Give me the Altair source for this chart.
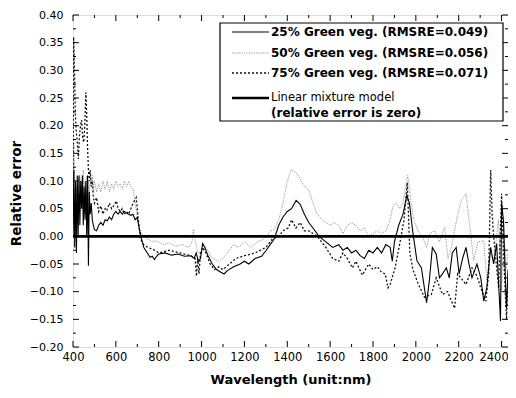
import altair as alt
import pandas as pd

# ---------------- data ----------------
wl25 = [400, 404, 408, 412, 416, 420, 424, 428, 432, 436, 440, 444, 448, 452, 456, 460, 464, 468, 472, 476,
        480, 485, 490, 495, 500, 510, 520, 530, 540, 550, 560, 570, 580, 590, 600, 610, 620, 630, 640, 650,
        660, 670, 680, 690, 700, 710, 720, 730, 740, 750, 760, 770, 780, 790, 800, 830, 860, 890, 920, 950,
        965, 975, 985, 995, 1005, 1015, 1030, 1050, 1070, 1090, 1105, 1120, 1150, 1180, 1200, 1220, 1250,
        1280, 1300, 1320, 1340, 1360, 1380, 1400, 1420, 1441, 1460, 1480, 1500, 1520, 1548, 1580, 1612,
        1640, 1660, 1680, 1700, 1720, 1740, 1760, 1780, 1800, 1820, 1840, 1860, 1880, 1890, 1900, 1920,
        1940, 1958, 1970, 1985, 2005, 2026, 2050, 2063, 2077, 2095, 2110, 2124, 2142, 2156, 2170, 2188,
        2202, 2218, 2234, 2248, 2262, 2285, 2303, 2317, 2331, 2349, 2363, 2377, 2395, 2400, 2409, 2418, 2423, 2430]
re25 = [0.0, 0.12, -0.02, 0.10, -0.03, 0.11, 0.0, 0.11, 0.02, 0.10, 0.05, 0.11, 0.02, 0.09, 0.03, 0.10, 0.0, 0.11, -0.053, 0.08,
        0.04, 0.06, 0.03, 0.02, 0.012, 0.01, 0.02, 0.025, 0.02, 0.03, 0.028, 0.035, 0.03, 0.04, 0.045, 0.04, 0.045, 0.04, 0.045, 0.042,
        0.04, 0.038, 0.04, 0.03, 0.034, 0.012, -0.005, -0.02, -0.026, -0.032, -0.038, -0.036, -0.042, -0.036, -0.032, -0.03, -0.034, -0.032, -0.036, -0.035,
        -0.04, -0.03, -0.045, -0.04, -0.013, -0.02, -0.035, -0.05, -0.06, -0.065, -0.068, -0.062, -0.055, -0.05, -0.045, -0.05, -0.04,
        -0.036, -0.026, -0.015, -0.004, 0.02, 0.035, 0.045, 0.05, 0.065, 0.058, 0.04, 0.025, 0.015, 0.0, -0.01, -0.02,
        -0.015, -0.025, -0.02, -0.03, -0.025, -0.035, -0.04, -0.025, -0.03, -0.02, -0.03, -0.015, -0.02, -0.045, -0.01, 0.02,
        0.04, 0.074, 0.06, 0.01, -0.044, -0.057, -0.12, -0.08, -0.02, -0.032, -0.075, -0.068, -0.057, -0.075, -0.03, -0.02,
        -0.068, -0.04, -0.02, -0.05, -0.075, -0.05, -0.075, -0.117, -0.093, -0.02, -0.05, -0.013, -0.153, 0.06, 0.028, -0.08, -0.13, -0.06]

wl50 = [400, 404, 408, 412, 416, 420, 424, 428, 432, 436, 440, 444, 448, 452, 456, 460, 464, 468, 472, 476,
        480, 485, 490, 495, 500, 510, 520, 530, 540, 550, 560, 570, 580, 590, 600, 610, 620, 630, 640, 650,
        660, 670, 680, 690, 700, 710, 720, 730, 750, 770, 790, 820, 850, 880, 910, 940, 955, 962, 970, 985,
        1000, 1020, 1050, 1080, 1100, 1120, 1150, 1170, 1200, 1230, 1260, 1290, 1322, 1340, 1360, 1380,
        1400, 1418, 1440, 1460, 1480, 1501, 1520, 1540, 1566, 1580, 1600, 1620, 1640, 1660, 1680, 1700,
        1720, 1740, 1760, 1780, 1800, 1820, 1840, 1860, 1880, 1893, 1910, 1925, 1940, 1962, 1975, 1990,
        2010, 2030, 2050, 2065, 2088, 2110, 2134, 2150, 2166, 2190, 2212, 2234, 2248, 2270, 2290, 2317,
        2331, 2345, 2363, 2386, 2400, 2410, 2420, 2430]
re50 = [0.05, 0.17, 0.10, 0.0, 0.09, 0.02, 0.10, 0.04, 0.11, 0.06, 0.10, 0.05, 0.12, 0.04, 0.10, 0.06, 0.11, 0.03, 0.10, 0.06,
        0.11, 0.09, 0.11, 0.08, 0.10, 0.08, 0.095, 0.08, 0.10, 0.085, 0.10, 0.08, 0.095, 0.085, 0.10, 0.09, 0.095, 0.085, 0.10, 0.09,
        0.10, 0.09, 0.085, 0.06, 0.035, 0.015, 0.005, 0.0, -0.005, -0.01, -0.008, -0.015, -0.012, -0.018, -0.015, -0.02, -0.01, 0.013, -0.01, -0.03,
        -0.03, -0.02, -0.04, -0.045, -0.04, -0.03, -0.015, -0.02, -0.01, -0.02, -0.01, -0.005, 0.01, 0.012, 0.03, 0.06,
        0.10, 0.12, 0.115, 0.105, 0.09, 0.083, 0.06, 0.04, 0.029, 0.025, 0.02, 0.025, 0.02, 0.005, 0.02, 0.025,
        0.02, 0.01, 0.015, 0.0, 0.005, 0.01, 0.005, 0.01, 0.03, 0.055, 0.06, 0.05, 0.06, 0.11, 0.07, 0.03,
        0.01, 0.0, -0.02, 0.005, 0.01, -0.01, 0.016, -0.04, -0.02, 0.03, 0.065, 0.077, 0.03, -0.044, -0.01, -0.008,
        -0.08, -0.03, -0.044, 0.03, -0.1, 0.02, -0.06, -0.03]

wl75 = [400, 403, 407, 411, 415, 420, 425, 430, 435, 440, 445, 450, 455, 460, 464, 468, 472, 476, 480, 485,
        490, 495, 500, 510, 520, 530, 540, 550, 557, 570, 580, 590, 603, 610, 620, 630, 640, 650, 660, 670,
        680, 695, 705, 715, 730, 750, 780, 800, 850, 900, 950, 970, 976, 982, 988, 995, 1005, 1020, 1040,
        1060, 1080, 1100, 1130, 1160, 1200, 1250, 1300, 1330, 1360, 1380, 1404, 1420, 1440, 1460, 1480,
        1500, 1520, 1540, 1560, 1580, 1612, 1640, 1660, 1680, 1704, 1720, 1750, 1780, 1800, 1820, 1840,
        1857, 1870, 1880, 1903, 1925, 1945, 1960, 1972, 1986, 2010, 2040, 2072, 2095, 2124, 2148, 2166,
        2181, 2195, 2220, 2234, 2262, 2283, 2303, 2326, 2340, 2349, 2356, 2363, 2386, 2400, 2409, 2423, 2430]
re75 = [0.05, 0.36, 0.30, 0.22, 0.19, 0.17, 0.14, 0.18, 0.20, 0.21, 0.18, 0.17, 0.20, 0.26, 0.22, 0.16, 0.12, 0.10, 0.12, 0.09,
        0.10, 0.07, 0.06, 0.07, 0.045, 0.055, 0.04, 0.05, 0.046, 0.06, 0.05, 0.055, 0.064, 0.05, 0.045, 0.05, 0.04, 0.045, 0.04, 0.05,
        0.06, 0.07, 0.03, -0.005, -0.015, -0.02, -0.025, -0.03, -0.025, -0.03, -0.035, -0.04, -0.072, -0.04, -0.068, -0.03, -0.02, -0.03, -0.05,
        -0.06, -0.055, -0.06, -0.05, -0.04, -0.035, -0.03, -0.02, -0.005, 0.0, 0.01, 0.015, 0.03, 0.015, 0.025, 0.01,
        0.01, 0.005, 0.0, -0.01, -0.02, -0.04, -0.045, -0.03, -0.04, -0.057, -0.045, -0.07, -0.05, -0.06, -0.055, -0.065,
        -0.068, -0.093, -0.087, -0.057, -0.013, 0.03, 0.097, -0.03, -0.06, -0.085, -0.11, -0.105, -0.075, -0.105, -0.10, -0.117,
        -0.13, -0.068, -0.08, -0.087, -0.057, -0.07, -0.093, -0.117, -0.068, 0.12, 0.04, 0.0, -0.093, 0.077, -0.03, -0.15, -0.08]

model_wl = [400, 2430]
model_re = [0.0, 0.0]

x_major = [400, 600, 800, 1000, 1200, 1400, 1600, 1800, 2000, 2200, 2400]
x_minor = [500, 700, 900, 1100, 1300, 1500, 1700, 1900, 2100, 2300]
y_major = [-0.20, -0.15, -0.10, -0.05, 0.00, 0.05, 0.10, 0.15, 0.20, 0.25, 0.30, 0.35, 0.40]
y_minor = [-0.175, -0.125, -0.075, -0.025, 0.025, 0.075, 0.125, 0.175, 0.225, 0.275, 0.325, 0.375]

legend_labels = ["25% Green veg. (RMSRE=0.049)",
                 "50% Green veg. (RMSRE=0.056)",
                 "75% Green veg. (RMSRE=0.071)",
                 "Linear mixture model",
                 "(relative error is zero)"]

# ---------------- chart ----------------
W, H = 435, 332
FONT = "DejaVu Sans"
xs = alt.Scale(domain=[400, 2430], nice=False, zero=False)
ys = alt.Scale(domain=[-0.2, 0.4], nice=False, zero=False)

xaxis = alt.Axis(values=x_major, format="d", ticks=False, domain=False, grid=False, labelFlush=False,
                 labelOffset={"condition": {"test": "datum.value >= 2400", "value": -8}, "value": 0},
                 labelFont=FONT, labelFontSize=11.5, labelColor="black", labelPadding=4,
                 title="Wavelength (unit:nm)", titleFont=FONT, titleFontSize=13,
                 titleFontWeight="bold", titleColor="black", titlePadding=11)
yaxis = alt.Axis(values=y_major, format=".2f", ticks=False, domain=False, grid=False, labelFlush=False,
                 labelFont=FONT, labelFontSize=11, labelColor="black", labelPadding=10,
                 title="Relative error", titleFont=FONT, titleFontSize=13.5,
                 titleFontWeight="bold", titleColor="black", titleX=-57, titleY=178,
                 titleAngle=270, titleBaseline="middle")

X = lambda f: alt.X(f, scale=xs, axis=xaxis)
Y = lambda f: alt.Y(f, scale=ys, axis=yaxis)

def series(wl, re):
    return alt.Chart(pd.DataFrame({"wl": wl, "re": re}))

l50 = series(wl50, re50).mark_line(color="#8a8a8a", strokeWidth=0.9, strokeDash=[1.2, 1.2], clip=True).encode(
    x=X("wl:Q"), y=Y("re:Q"))
l75 = series(wl75, re75).mark_line(color="#111111", strokeWidth=1.3, strokeDash=[2, 2], clip=True).encode(
    x=X("wl:Q"), y=Y("re:Q"))
l25 = series(wl25, re25).mark_line(color="black", strokeWidth=1.1, clip=True).encode(
    x=X("wl:Q"), y=Y("re:Q"))
lmodel = series(model_wl, model_re).mark_line(color="black", strokeWidth=2.6).encode(
    x=X("wl:Q"), y=Y("re:Q"))

def xticks(vals, length):
    d = alt.Chart(pd.DataFrame({"wl": vals}))
    bot = d.mark_rule(color="black", strokeWidth=1).encode(
        x=X("wl:Q"), y=alt.value(H), y2=alt.value(H - length))
    top = d.mark_rule(color="black", strokeWidth=1).encode(
        x=X("wl:Q"), y=alt.value(0), y2=alt.value(length))
    return [bot, top]

def yticks(vals, length):
    d = alt.Chart(pd.DataFrame({"re": vals}))
    left = d.mark_rule(color="black", strokeWidth=1).encode(
        y=Y("re:Q"), x=alt.value(0), x2=alt.value(length))
    right = d.mark_rule(color="black", strokeWidth=1).encode(
        y=Y("re:Q"), x=alt.value(W), x2=alt.value(W - length))
    return [left, right]

ticks = xticks(x_major, 6) + xticks(x_minor, 3) + yticks(y_major, 6) + yticks(y_minor, 3)

one = alt.Chart(pd.DataFrame({"k": [0]}))
box = one.mark_rect(fill="white", stroke="black", strokeWidth=1.2).encode(
    x=alt.value(147), x2=alt.value(430), y=alt.value(8), y2=alt.value(106))

LX1, LX2, TX = 159, 196, 198
leg_lines = [
    one.mark_rule(color="black", strokeWidth=1.1).encode(x=alt.value(LX1), x2=alt.value(LX2), y=alt.value(17)),
    one.mark_rule(color="#8a8a8a", strokeWidth=0.9, strokeDash=[1.2, 1.2]).encode(x=alt.value(LX1), x2=alt.value(LX2), y=alt.value(38)),
    one.mark_rule(color="#111111", strokeWidth=1.3, strokeDash=[2, 2]).encode(x=alt.value(LX1), x2=alt.value(LX2), y=alt.value(58)),
    one.mark_rule(color="black", strokeWidth=2.6).encode(x=alt.value(LX1), x2=alt.value(LX2), y=alt.value(83)),
]
leg_y = [17, 38, 58, 83, 98]
leg_w = ["bold", "bold", "bold", "normal", "bold"]
leg_s = [12, 12, 12, 11.5, 12]
leg_text = [
    one.mark_text(align="left", baseline="middle", font=FONT, fontSize=s, fontWeight=w, color="black").encode(
        x=alt.value(TX), y=alt.value(yy), text=alt.value(t))
    for t, yy, w, s in zip(legend_labels, leg_y, leg_w, leg_s)
]

chart = alt.layer(l50, l75, l25, lmodel, *ticks, box, *leg_lines, *leg_text).properties(
    width=W, height=H,
    autosize=alt.AutoSizeParams(type="none"),
    padding={"left": 65, "top": 7, "right": 0, "bottom": 43},
).configure_view(stroke="black", strokeWidth=1.3).configure(background="white")

chart.save("out.html", embed_options={"renderer": "svg", "actions": False})
